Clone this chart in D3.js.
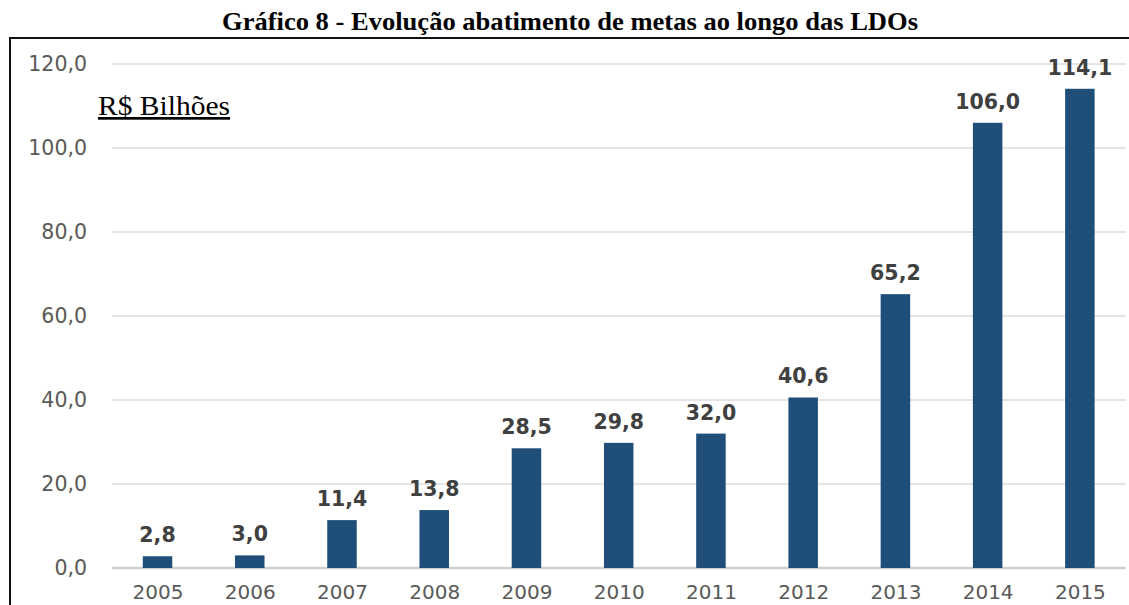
<!DOCTYPE html>
<html>
<head>
<meta charset="utf-8">
<script src="https://cdn.jsdelivr.net/npm/d3@7"></script>
<style>
  body { margin: 0; background: #fff; }
  svg { display: block; }
</style>
</head>
<body>
<script>
// chart data
var years = ["2005", "2006", "2007", "2008", "2009", "2010", "2011", "2012", "2013", "2014", "2015"];
var values = [2.8, 3.0, 11.4, 13.8, 28.5, 29.8, 32.0, 40.6, 65.2, 106.0, 114.1];
var yTicks = [0, 20, 40, 60, 80, 100, 120];
var title = "Gráfico 8 - Evolução abatimento de metas ao longo das LDOs";
var unitLabel = "R$ Bilhões";

var width = 1129;
var height = 605;

var svg = d3.select("body")
            .append("svg")
            .attr("width", width)
            .attr("height", height);

// scales
var xScale = d3.scalePoint()
               .domain(years)
               .range([111.4, 1126])
               .padding(0.5);
var yScale = d3.scaleLinear()
               .domain([0, 120])
               .range([568, 64]);
var barWidth = 29.5;

// comma decimal like the original
function fmt(v) {
  return v.toFixed(1).replace(".", ",");
}

// title
svg.append("text")
   .attr("x", 222)
   .attr("y", 30)
   .attr("textLength", 696)
   .attr("lengthAdjust", "spacingAndGlyphs")
   .style("font-family", "'Liberation Serif', 'Times New Roman', serif")
   .style("font-weight", "bold")
   .style("font-size", "25px")
   .text(title);

// frame (only top and left show)
svg.append("path")
   .attr("d", "M10," + height + " L10,38 L" + width + ",38")
   .attr("fill", "none")
   .attr("stroke", "#111")
   .attr("stroke-width", 2);

// gridlines
svg.append("g")
   .selectAll("line")
   .data(yTicks)
   .enter()
   .append("line")
   .attr("x1", 112)
   .attr("x2", 1126)
   .attr("y1", function(d) { return yScale(d); })
   .attr("y2", function(d) { return yScale(d); })
   .attr("stroke", function(d) { return d === 0 ? "#d0d0d0" : "#dcdcdc"; })
   .attr("stroke-width", function(d) { return d === 0 ? 2.5 : 1.5; });

// y axis labels
var yAxe = d3.axisLeft(yScale)
             .tickValues(yTicks)
             .tickSize(0)
             .tickPadding(0)
             .tickFormat(fmt);
var yG = svg.append("g")
            .attr("transform", "translate(" + [87, 0] + ")")
            .call(yAxe);
yG.select(".domain").remove();
yG.selectAll("text")
  .attr("fill", "#595959")
  .style("font-family", "'DejaVu Sans', sans-serif")
  .style("font-size", "20.5px");

// x axis labels
var xAxe = d3.axisBottom(xScale).tickSize(0).tickPadding(0);
var xG = svg.append("g")
            .attr("transform", "translate(" + [0, 585] + ")")
            .call(xAxe);
xG.select(".domain").remove();
xG.selectAll("text")
  .attr("fill", "#595959")
  .style("font-family", "'DejaVu Sans', sans-serif")
  .style("font-size", "20px");

// bars
svg.selectAll("rect.bar")
   .data(values)
   .enter()
   .append("rect")
   .attr("class", "bar")
   .attr("x", function(d, i) { return xScale(years[i]) - barWidth / 2; })
   .attr("y", function(d) { return yScale(d); })
   .attr("width", barWidth)
   .attr("height", function(d) { return yScale(0) - yScale(d); })
   .attr("fill", "#1f4e79");

// value labels
svg.selectAll("text.val")
   .data(values)
   .enter()
   .append("text")
   .attr("class", "val")
   .attr("x", function(d, i) { return xScale(years[i]); })
   .attr("y", function(d) { return yScale(d) - 14; })
   .attr("text-anchor", "middle")
   .attr("fill", "#404040")
   .style("font-family", "'DejaVu Sans', sans-serif")
   .style("font-weight", "bold")
   .style("font-size", "20.5px")
   .text(fmt);

// unit label
svg.append("text")
   .attr("x", 98)
   .attr("y", 115)
   .attr("textLength", 132)
   .attr("lengthAdjust", "spacingAndGlyphs")
   .attr("text-decoration", "underline")
   .style("font-family", "'Liberation Serif', 'Times New Roman', serif")
   .style("font-size", "27px")
   .style("text-decoration", "underline")
   .text(unitLabel);
</script>
</body>
</html>
